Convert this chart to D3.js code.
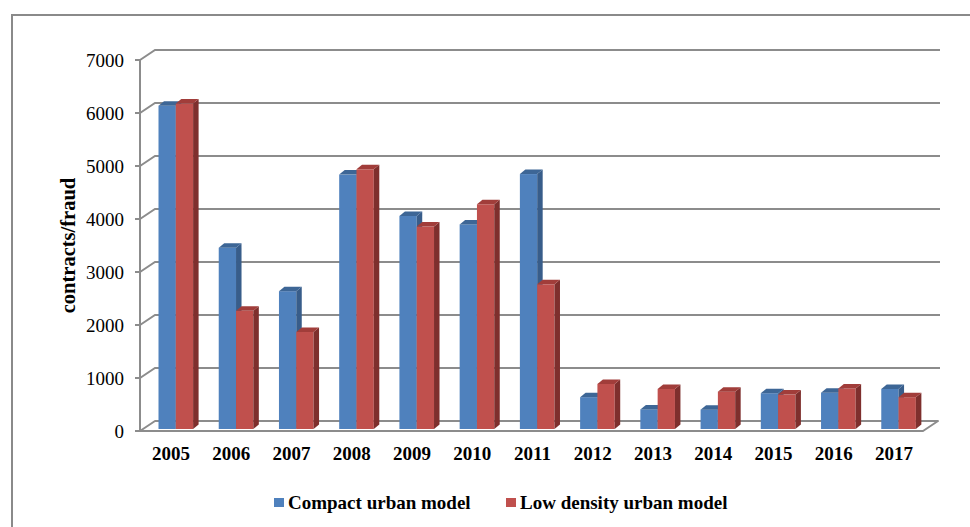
<!DOCTYPE html>
<html>
<head>
<meta charset="utf-8">
<script src="https://cdn.jsdelivr.net/npm/d3@7"></script>
<style>
  html, body { margin: 0; padding: 0; background: #fff; }
  svg { display: block; }
  text { font-family: "Liberation Serif", "Times New Roman", serif; fill: #000; }
</style>
</head>
<body>
<svg id="chart" width="970" height="527"></svg>
<script>
// ---- data ----
const years = ["2005","2006","2007","2008","2009","2010","2011","2012","2013","2014","2015","2016","2017"];
const seriesNames = ["Compact urban model", "Low density urban model"];
const compact = [6100, 3420, 2600, 4800, 4020, 3860, 4810, 600, 370, 365, 675, 685, 755];
const lowDensity = [6140, 2230, 1830, 4900, 3820, 4240, 2730, 850, 755, 705, 650, 765, 600];
const yTicks = [0, 1000, 2000, 3000, 4000, 5000, 6000, 7000];
const yTitle = "contracts/fraud";

const colors = {
  front: ["#4F81BD", "#C0504D"],
  side:  ["#385D8A", "#7E2F2D"],
  top:   ["#3D6696", "#A13D3A"]
};

const svg = d3.select("#chart");

// ---- frame ----
svg.append("path")
  .attr("d", "M12,527 L12,15 L970,15")
  .attr("fill", "none").attr("stroke", "#8a8a8a").attr("stroke-width", 2);

// ---- geometry ----
const frontLeft = 140, frontRight = 923, frontY0 = 431;
const wallDx = 15, wallDy = 10;       // depth of floor/walls
const barBaseShift = 2;               // bars sit slightly behind the front edge
const barDx = 5.5, barDy = 4.5;       // depth of each bar

const x = d3.scaleBand().domain(years).range([frontLeft, frontRight]).paddingInner(0).paddingOuter(0);
const y = d3.scaleLinear().domain([0, 7000]).range([frontY0, frontY0 - 7 * 53]);
const xs = d3.scaleBand().domain([0, 1]).range([18.5, 18.5 + 34.6]);

// ---- floor ----
svg.append("path")
  .attr("d", `M${frontLeft},${y(0)} L${frontRight},${y(0)} L${frontRight + wallDx},${y(0) - wallDy} L${frontLeft + wallDx},${y(0) - wallDy} Z`)
  .attr("fill", "#fff").attr("stroke", "#8c8c8c").attr("stroke-width", 2).attr("stroke-linejoin", "round");

// ---- gridlines (side wall diagonal + back wall horizontal) ----
const grid = svg.append("g").attr("fill", "none").attr("stroke", "#8c8c8c").attr("stroke-width", 2);
yTicks.forEach(t => {
  if (t === 0) return;
  grid.append("path")
    .attr("d", `M${frontLeft},${y(t)} L${frontLeft + wallDx},${y(t) - wallDy} L${frontRight + wallDx + 2},${y(t) - wallDy}`);
});
// left axis line + ticks
grid.append("line").attr("x1", frontLeft).attr("x2", frontLeft).attr("y1", y(7000)).attr("y2", y(0));
yTicks.forEach(t => {
  grid.append("line").attr("x1", frontLeft - 5).attr("x2", frontLeft).attr("y1", y(t)).attr("y2", y(t));
});

// ---- y tick labels ----
svg.append("g").selectAll("text").data(yTicks).join("text")
  .attr("x", 124).attr("y", d => y(d)).attr("dy", "0.35em")
  .attr("text-anchor", "end").attr("font-size", 19)
  .text(d => d);

// ---- y title ----
svg.append("text")
  .attr("transform", "translate(75,245.5) rotate(-90)")
  .attr("text-anchor", "middle").attr("font-size", 20.5).attr("font-weight", "bold")
  .text(yTitle);

// ---- bars ----
const data = years.map((yr, i) => ({ yr, vals: [compact[i], lowDensity[i]] }));
const bars = svg.append("g");
data.forEach(d => {
  d.vals.forEach((v, s) => {
    const x0 = x(d.yr) + xs(s);
    const w = xs.bandwidth();
    const yb = y(0) - barBaseShift;
    const yt = y(v) - barBaseShift;
    const g = bars.append("g");
    // front
    g.append("rect").attr("x", x0).attr("y", yt).attr("width", w).attr("height", yb - yt)
      .attr("fill", colors.front[s]);
    // side
    g.append("path")
      .attr("d", `M${x0 + w},${yt} L${x0 + w + barDx},${yt - barDy} L${x0 + w + barDx},${yb - barDy} L${x0 + w},${yb} Z`)
      .attr("fill", colors.side[s]);
    // top
    g.append("path")
      .attr("d", `M${x0},${yt} L${x0 + w},${yt} L${x0 + w + barDx},${yt - barDy} L${x0 + barDx},${yt - barDy} Z`)
      .attr("fill", colors.top[s]);
  });
});

// ---- x labels ----
svg.append("g").selectAll("text").data(years).join("text")
  .attr("x", d => x(d) + x.bandwidth() / 2 + 1).attr("y", 460)
  .attr("text-anchor", "middle").attr("font-size", 19).attr("font-weight", "bold")
  .text(d => d);

// ---- legend ----
const legendX = [274, 506];
const legend = svg.append("g");
seriesNames.forEach((name, s) => {
  legend.append("rect").attr("x", legendX[s]).attr("y", 498).attr("width", 10).attr("height", 9)
    .attr("fill", colors.front[s]);
  legend.append("text").attr("x", legendX[s] + 14).attr("y", 509)
    .attr("font-size", 19).attr("font-weight", "bold").text(name);
});
</script>
</body>
</html>
